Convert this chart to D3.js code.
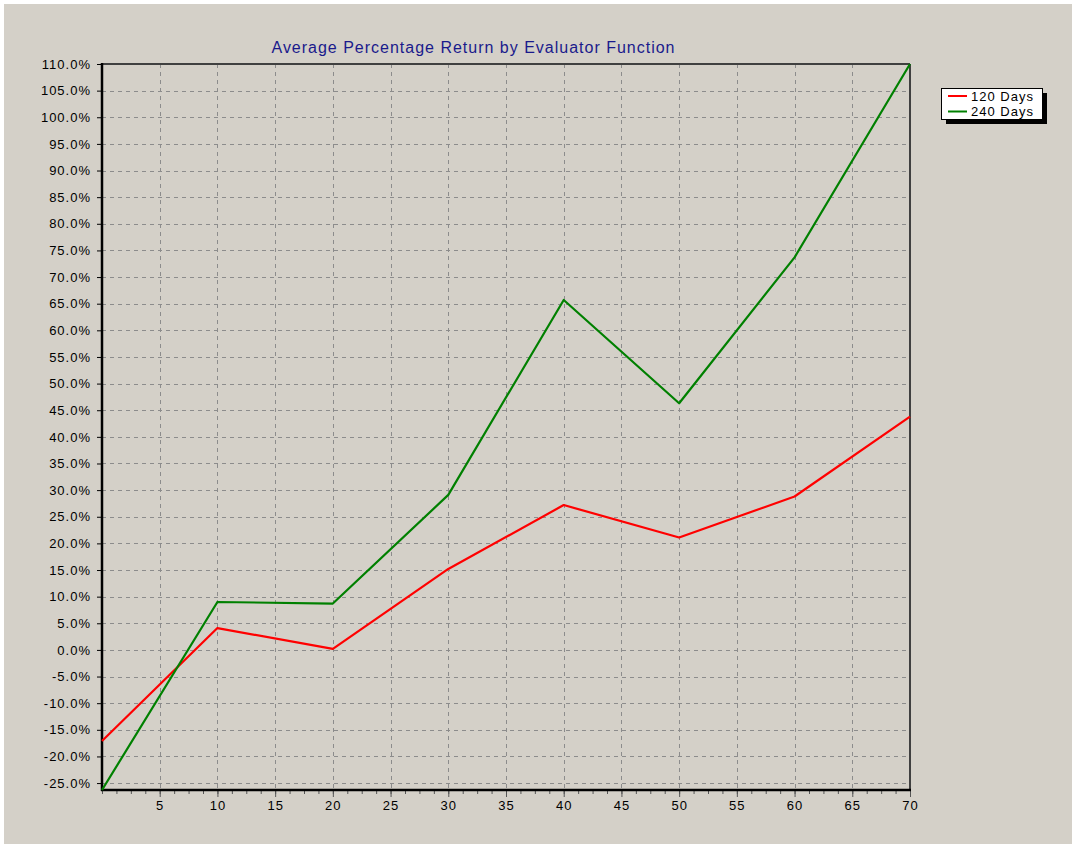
<!DOCTYPE html>
<meta charset="utf-8">
<style>
body { margin: 0; background: #fff; }
svg { display: block; }
text { font-family: "Liberation Sans", Arial, sans-serif; }
</style>
<svg width="1072" height="844"></svg>
<script src="https://cdn.jsdelivr.net/npm/d3@7"></script>
<script>
var periods = [0, 10, 20, 30, 40, 50, 60, 70]
var days120 = [-17.1, 4.1, 0.2, 15.2, 27.2, 21.1, 28.8, 43.8]
var days240 = [-26.3, 9.0, 8.7, 29.1, 65.7, 46.3, 73.7, 110.0]
var seriesNames = ["120 Days", "240 Days"]
var seriesColors = ["#ff0000", "#008000"]
var yTicks = d3.range(-25, 110.1, 5)
var xTicks = d3.range(5, 70.1, 5)
var xMinor = d3.range(0, 70.1, 1.25)

var title = "Average Percentage Return by Evaluator Function"

var pLeft = 102, pTop = 64, pRight = 910, pBottom = 790

var svg = d3.select("svg")

svg.append("rect")
  .attr("x", 4).attr("y", 4)
  .attr("width", 1068).attr("height", 840)
  .attr("fill", "#d4d0c8")

var x = d3.scaleLinear().domain([0, 70]).range([pLeft, pRight])
var y = d3.scaleLinear()
  .domain(d3.extent(days120.concat(days240)))
  .range([pBottom, pTop])

svg.append("text")
  .attr("x", 473).attr("y", 53)
  .attr("text-anchor", "middle")
  .attr("font-size", 16)
  .attr("fill", "#1a1a8c")
  .attr("textLength", 403)
  .attr("lengthAdjust", "spacing")
  .text(title)

// grid
var grid = svg.append("g")
  .attr("stroke", "#8c8c8c")
  .attr("stroke-width", 1)
  .attr("stroke-dasharray", "4,4")

grid.selectAll("line.h")
  .data(yTicks)
  .enter().append("line")
    .attr("x1", pLeft).attr("x2", pRight)
    .attr("y1", function(d){ return Math.round(y(d)) + 0.5 })
    .attr("y2", function(d){ return Math.round(y(d)) + 0.5 })

grid.selectAll("line.v")
  .data(xTicks.filter(function(d){ return d < 70 }))
  .enter().append("line")
    .attr("y1", pTop).attr("y2", pBottom)
    .attr("x1", function(d){ return Math.round(x(d)) + 0.5 })
    .attr("x2", function(d){ return Math.round(x(d)) + 0.5 })

// y axis
var yAxis = d3.axisLeft(y)
  .tickValues(yTicks)
  .tickSize(5)
  .tickPadding(6)
  .tickFormat(function(d){ return d.toFixed(1) + "%" })

var gy = svg.append("g")
  .attr("transform", "translate(" + pLeft + ",0)")
  .call(yAxis)
gy.select(".domain").remove()
gy.selectAll("line").attr("stroke", "#000")
gy.selectAll("text")
  .attr("font-size", 13)
  .attr("letter-spacing", "1px")
  .attr("fill", "#000")
  .attr("font-family", "Liberation Sans, Arial, sans-serif")

// x axis, minor then major
var gxm = svg.append("g")
  .attr("transform", "translate(0," + pBottom + ")")
  .call(d3.axisBottom(x).tickValues(xMinor).tickSize(4).tickFormat(""))
gxm.select(".domain").remove()
gxm.selectAll("line").attr("stroke", "#555")

var gx = svg.append("g")
  .attr("transform", "translate(0," + pBottom + ")")
  .call(d3.axisBottom(x).tickValues(xTicks).tickSize(7).tickPadding(4))
gx.select(".domain").remove()
gx.selectAll("line").attr("stroke", "#555")
gx.selectAll("text")
  .attr("font-size", 13)
  .attr("letter-spacing", "1px")
  .attr("fill", "#000")
  .attr("font-family", "Liberation Sans, Arial, sans-serif")

// frame
svg.append("line")
  .attr("x1", pLeft).attr("x2", pRight).attr("y1", pTop).attr("y2", pTop)
  .attr("stroke", "#404040").attr("stroke-width", 2)
svg.append("line")
  .attr("x1", pRight).attr("x2", pRight).attr("y1", pTop).attr("y2", pBottom)
  .attr("stroke", "#404040").attr("stroke-width", 2)
svg.append("line")
  .attr("x1", pLeft).attr("x2", pLeft).attr("y1", pTop - 1).attr("y2", pBottom + 1)
  .attr("stroke", "#000").attr("stroke-width", 2.5)
svg.append("line")
  .attr("x1", pLeft - 1).attr("x2", pRight + 1).attr("y1", pBottom).attr("y2", pBottom)
  .attr("stroke", "#000").attr("stroke-width", 2.5)

// series
var line = d3.line()
  .x(function(d, i){ return x(periods[i]) })
  .y(function(d){ return y(d) })

;[days120, days240].forEach(function(vals, i){
  svg.append("path")
    .datum(vals)
    .attr("fill", "none")
    .attr("stroke", seriesColors[i])
    .attr("stroke-width", 2.2)
    .attr("stroke-linejoin", "round")
    .attr("d", line)
})

// legend
var lg = svg.append("g").attr("transform", "translate(941,88)")
lg.append("rect")
  .attr("x", 5).attr("y", 5).attr("width", 101).attr("height", 31)
  .attr("fill", "#000")
lg.append("rect")
  .attr("x", 0.5).attr("y", 0.5).attr("width", 101).attr("height", 31)
  .attr("fill", "#fff").attr("stroke", "#000")

seriesNames.forEach(function(name, i){
  var ly = 8 + i * 15.5
  lg.append("line")
    .attr("x1", 7).attr("x2", 26).attr("y1", ly).attr("y2", ly)
    .attr("stroke", seriesColors[i]).attr("stroke-width", 2)
  lg.append("text")
    .attr("x", 30).attr("y", ly + 4.5)
    .attr("font-size", 13)
    .attr("letter-spacing", "1px")
    .attr("fill", "#000")
    .text(name)
})
</script>
